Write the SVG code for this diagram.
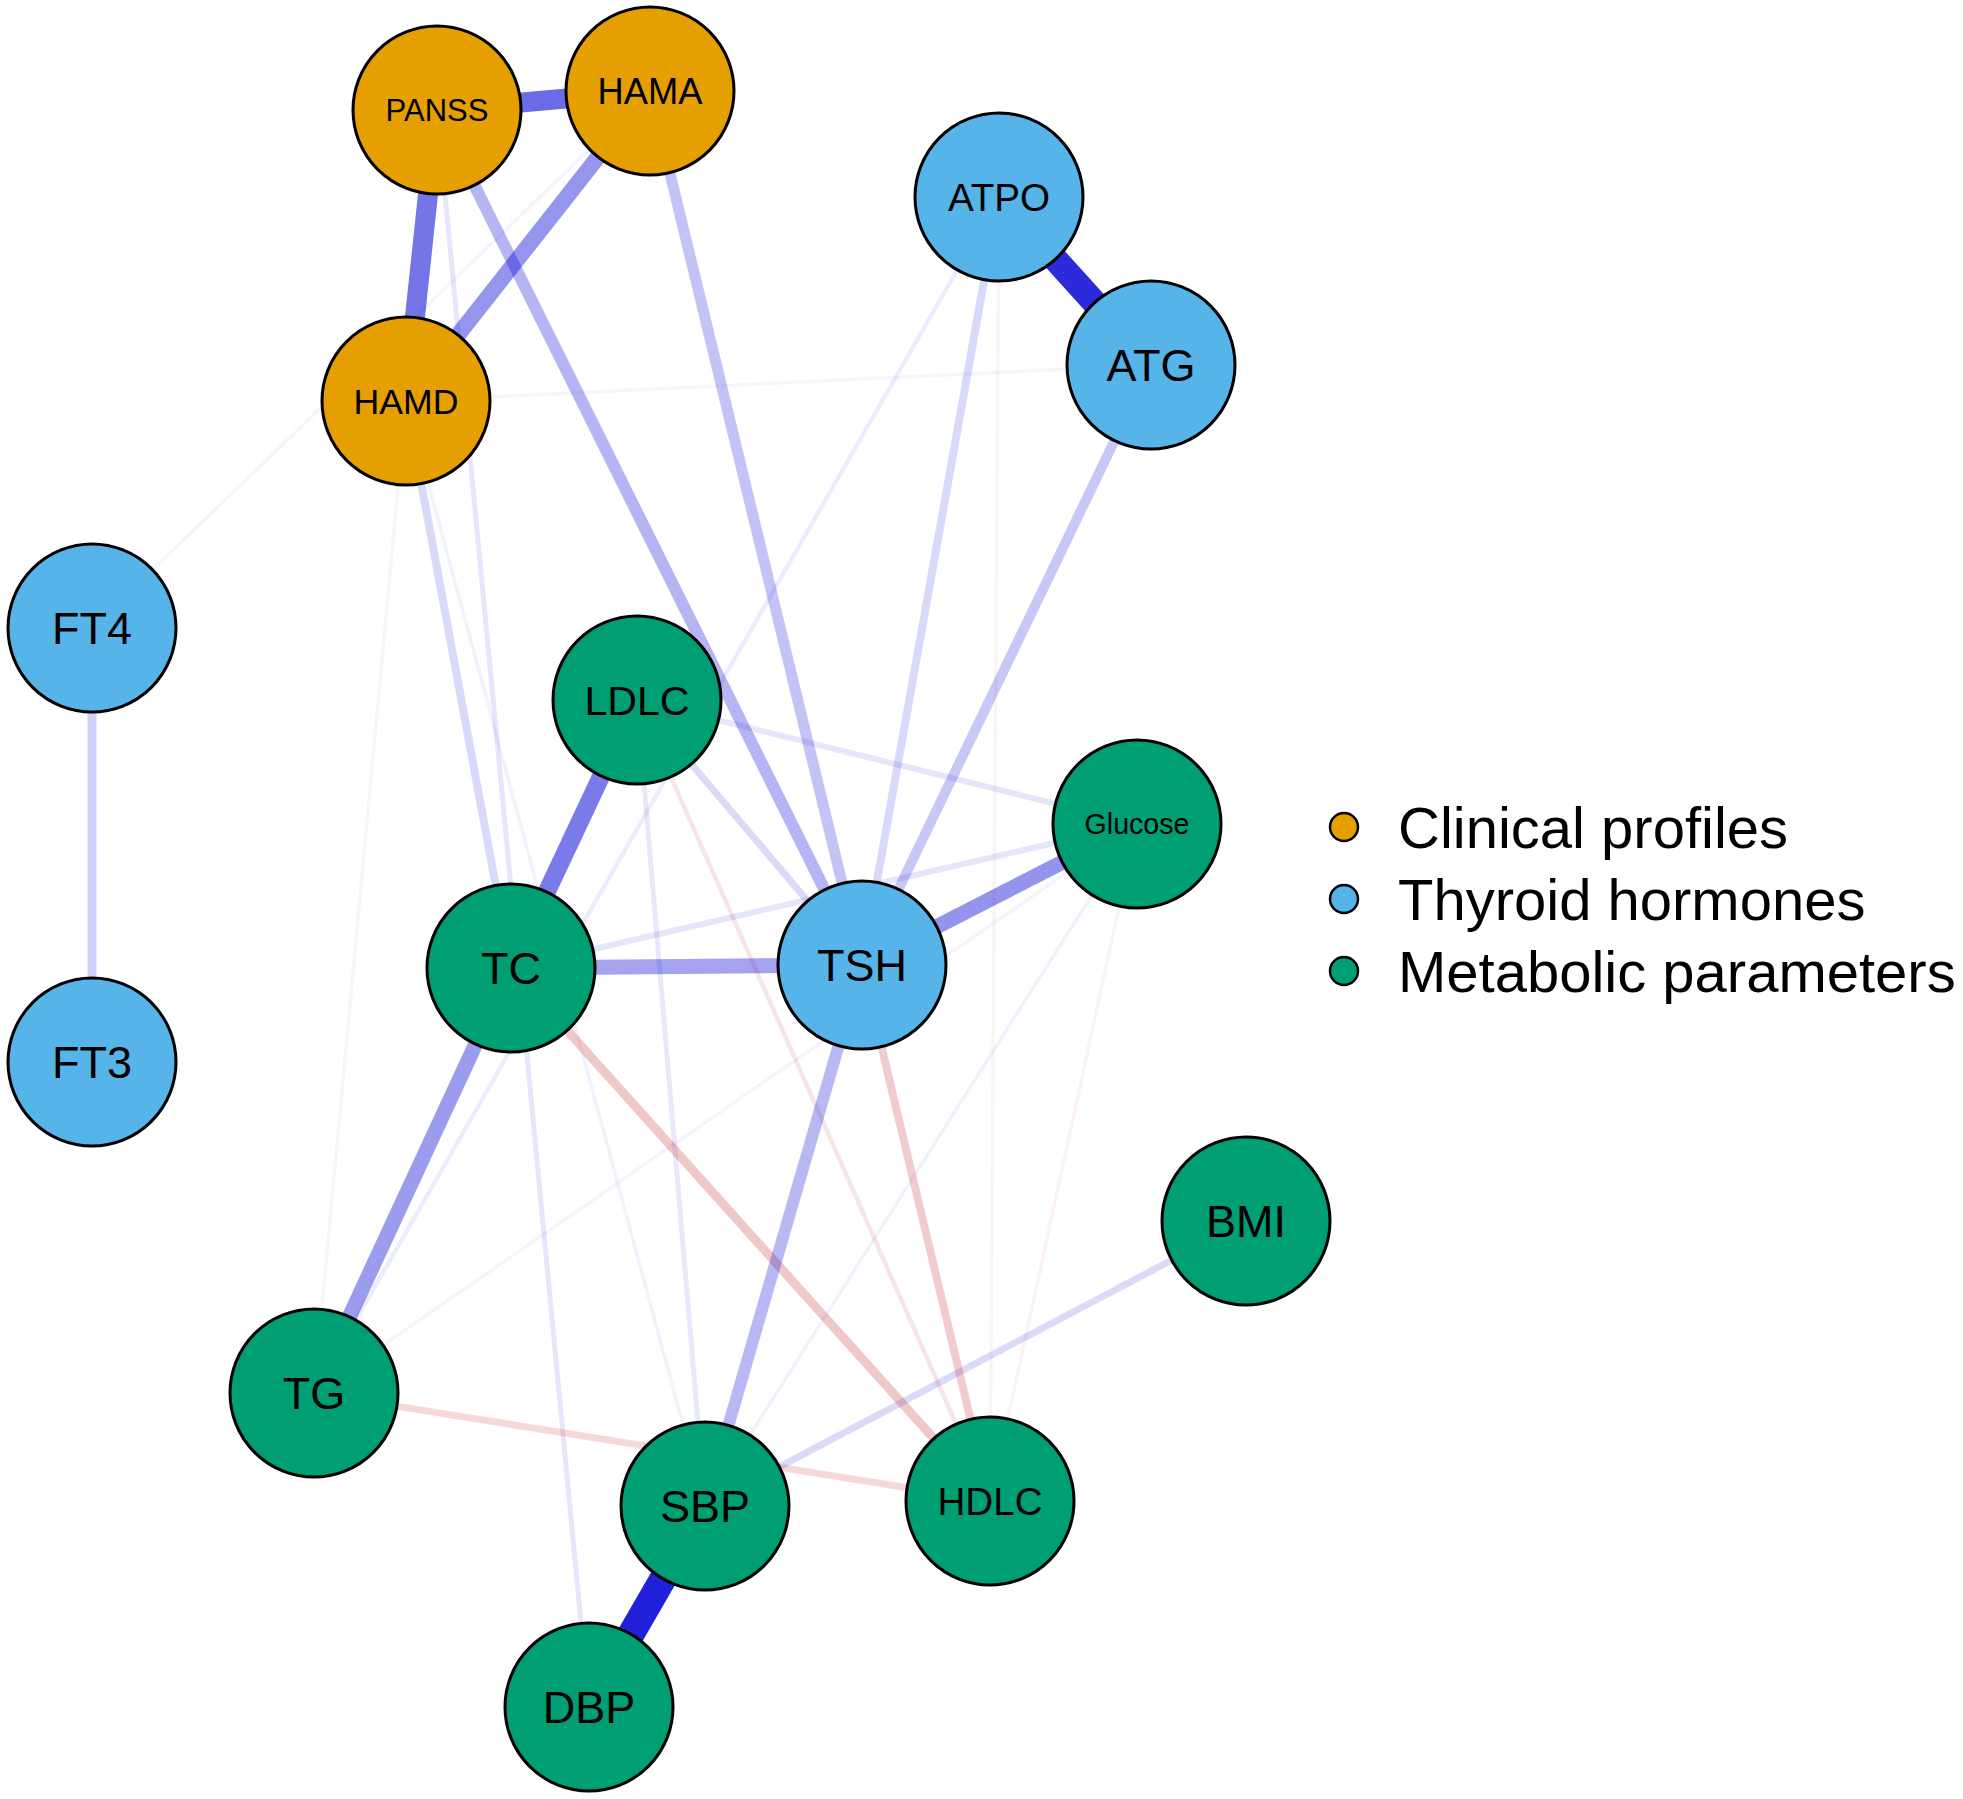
<svg xmlns="http://www.w3.org/2000/svg" width="1963" height="1799" viewBox="0 0 1963 1799">
<style>
.bg{fill:#ffffff}
.e{fill:none;stroke-linecap:butt}
.pos{stroke:#0000D5}
.neg{stroke:#BF0000}
.node{stroke:#000000;stroke-width:3}
.c1{fill:#E69F00}
.c2{fill:#56B4E9}
.c3{fill:#009E73}
.lbl{font-family:"Liberation Sans",Arial,sans-serif;text-anchor:middle;fill:#000000}
.leg{font-family:"Liberation Sans",Arial,sans-serif;font-size:58px;fill:#000000}
.legc{stroke:#000000;stroke-width:2.5}
</style>
<rect class="bg" x="0" y="0" width="1963" height="1799"/>
<g id="edges">
<line class="e pos" x1="406" y1="401" x2="1151" y2="365" stroke-opacity="0.04" stroke-width="3.5"/>
<line class="e pos" x1="650" y1="91" x2="92" y2="628" stroke-opacity="0.045" stroke-width="3.5"/>
<line class="e pos" x1="406" y1="401" x2="314" y2="1393" stroke-opacity="0.04" stroke-width="3.5"/>
<line class="e pos" x1="1137" y1="824" x2="314" y2="1393" stroke-opacity="0.045" stroke-width="3.5"/>
<line class="e pos" x1="406" y1="401" x2="705" y2="1506" stroke-opacity="0.05" stroke-width="3.5"/>
<line class="e pos" x1="1137" y1="824" x2="705" y2="1506" stroke-opacity="0.055" stroke-width="3.5"/>
<line class="e neg" x1="1137" y1="824" x2="990" y2="1501" stroke-opacity="0.05" stroke-width="3.5"/>
<line class="e neg" x1="999" y1="197" x2="990" y2="1501" stroke-opacity="0.045" stroke-width="3.5"/>
<line class="e pos" x1="999" y1="197" x2="314" y2="1393" stroke-opacity="0.075" stroke-width="4.5"/>
<line class="e neg" x1="637" y1="700" x2="990" y2="1501" stroke-opacity="0.1" stroke-width="4.5"/>
<line class="e pos" x1="637" y1="700" x2="705" y2="1506" stroke-opacity="0.09" stroke-width="5"/>
<line class="e pos" x1="437" y1="110" x2="589" y2="1707" stroke-opacity="0.1" stroke-width="5"/>
<line class="e pos" x1="637" y1="700" x2="1137" y2="824" stroke-opacity="0.1" stroke-width="6"/>
<line class="e pos" x1="511" y1="968" x2="1137" y2="824" stroke-opacity="0.1" stroke-width="6"/>
<line class="e neg" x1="314" y1="1393" x2="990" y2="1501" stroke-opacity="0.15" stroke-width="7"/>
<line class="e pos" x1="637" y1="700" x2="862" y2="965" stroke-opacity="0.14" stroke-width="7"/>
<line class="e pos" x1="1246" y1="1221" x2="705" y2="1506" stroke-opacity="0.14" stroke-width="7"/>
<line class="e pos" x1="999" y1="197" x2="862" y2="965" stroke-opacity="0.15" stroke-width="8"/>
<line class="e pos" x1="406" y1="401" x2="511" y2="968" stroke-opacity="0.15" stroke-width="8"/>
<line class="e pos" x1="92" y1="628" x2="92" y2="1062" stroke-opacity="0.18" stroke-width="9"/>
<line class="e neg" x1="862" y1="965" x2="990" y2="1501" stroke-opacity="0.2" stroke-width="8"/>
<line class="e neg" x1="511" y1="968" x2="990" y2="1501" stroke-opacity="0.216" stroke-width="9"/>
<line class="e pos" x1="1151" y1="365" x2="862" y2="965" stroke-opacity="0.215" stroke-width="10"/>
<line class="e pos" x1="650" y1="91" x2="862" y2="965" stroke-opacity="0.235" stroke-width="11"/>
<line class="e pos" x1="862" y1="965" x2="705" y2="1506" stroke-opacity="0.28" stroke-width="12"/>
<line class="e pos" x1="437" y1="110" x2="862" y2="965" stroke-opacity="0.29" stroke-width="12"/>
<line class="e pos" x1="511" y1="968" x2="862" y2="965" stroke-opacity="0.36" stroke-width="15"/>
<line class="e pos" x1="511" y1="968" x2="314" y2="1393" stroke-opacity="0.39" stroke-width="15"/>
<line class="e pos" x1="650" y1="91" x2="406" y2="401" stroke-opacity="0.415" stroke-width="16"/>
<line class="e pos" x1="862" y1="965" x2="1137" y2="824" stroke-opacity="0.42" stroke-width="15"/>
<line class="e pos" x1="637" y1="700" x2="511" y2="968" stroke-opacity="0.52" stroke-width="18"/>
<line class="e pos" x1="437" y1="110" x2="406" y2="401" stroke-opacity="0.54" stroke-width="20"/>
<line class="e pos" x1="437" y1="110" x2="650" y2="91" stroke-opacity="0.58" stroke-width="20"/>
<line class="e pos" x1="999" y1="197" x2="1151" y2="365" stroke-opacity="0.83" stroke-width="25"/>
<line class="e pos" x1="705" y1="1506" x2="589" y2="1707" stroke-opacity="0.875" stroke-width="27"/>
</g>
<g id="node-PANSS"><circle class="node c1" cx="437" cy="110" r="84"/><text class="lbl" x="437" y="121" font-size="31">PANSS</text></g>
<g id="node-HAMA"><circle class="node c1" cx="650" cy="91" r="84"/><text class="lbl" x="650" y="104" font-size="36.3">HAMA</text></g>
<g id="node-HAMD"><circle class="node c1" cx="406" cy="401" r="84"/><text class="lbl" x="406" y="414" font-size="35.7">HAMD</text></g>
<g id="node-ATPO"><circle class="node c2" cx="999" cy="197" r="84"/><text class="lbl" x="999" y="211" font-size="38.6">ATPO</text></g>
<g id="node-ATG"><circle class="node c2" cx="1151" cy="365" r="84"/><text class="lbl" x="1151" y="381" font-size="45">ATG</text></g>
<g id="node-FT4"><circle class="node c2" cx="92" cy="628" r="84"/><text class="lbl" x="92" y="644" font-size="45">FT4</text></g>
<g id="node-FT3"><circle class="node c2" cx="92" cy="1062" r="84"/><text class="lbl" x="92" y="1078" font-size="45">FT3</text></g>
<g id="node-LDLC"><circle class="node c3" cx="637" cy="700" r="84"/><text class="lbl" x="637" y="715" font-size="41.1">LDLC</text></g>
<g id="node-Glucose"><circle class="node c3" cx="1137" cy="824" r="84"/><text class="lbl" x="1137" y="834" font-size="28.6">Glucose</text></g>
<g id="node-TC"><circle class="node c3" cx="511" cy="968" r="84"/><text class="lbl" x="511" y="984" font-size="45">TC</text></g>
<g id="node-TSH"><circle class="node c2" cx="862" cy="965" r="84"/><text class="lbl" x="862" y="981" font-size="45">TSH</text></g>
<g id="node-BMI"><circle class="node c3" cx="1246" cy="1221" r="84"/><text class="lbl" x="1246" y="1237" font-size="45">BMI</text></g>
<g id="node-TG"><circle class="node c3" cx="314" cy="1393" r="84"/><text class="lbl" x="314" y="1409" font-size="45">TG</text></g>
<g id="node-SBP"><circle class="node c3" cx="705" cy="1506" r="84"/><text class="lbl" x="705" y="1522" font-size="45">SBP</text></g>
<g id="node-HDLC"><circle class="node c3" cx="990" cy="1501" r="84"/><text class="lbl" x="990" y="1515" font-size="38.6">HDLC</text></g>
<g id="node-DBP"><circle class="node c3" cx="589" cy="1707" r="84"/><text class="lbl" x="589" y="1723" font-size="45">DBP</text></g>
<g id="legend">
<circle class="legc c1" cx="1344" cy="827" r="14"/><text class="leg" x="1398" y="848">Clinical profiles</text>
<circle class="legc c2" cx="1344" cy="899" r="14"/><text class="leg" x="1398" y="920">Thyroid hormones</text>
<circle class="legc c3" cx="1344" cy="971" r="14"/><text class="leg" x="1398" y="992">Metabolic parameters</text>
</g>
</svg>
